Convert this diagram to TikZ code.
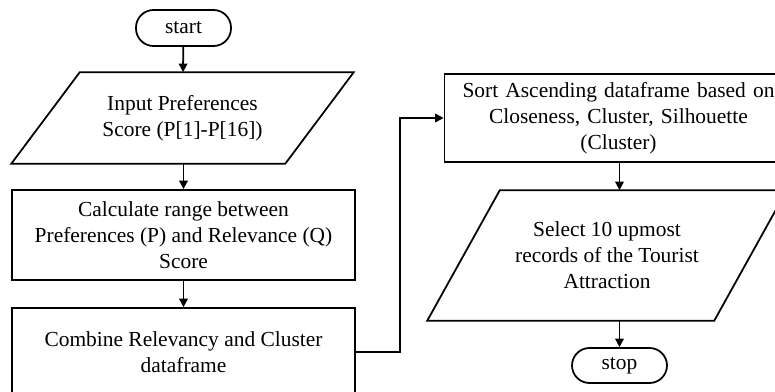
\documentclass[tikz,border=0pt]{standalone}
\usepackage{fontspec}
\setmainfont{Liberation Serif}
\usetikzlibrary{arrows.meta}
\tikzset{
    box/.style={draw, line width=1pt, align=center, font=\fontsize{12.2}{14.8}\selectfont},
    term/.style={box, rounded corners=0.35cm, minimum width=1.9cm, minimum height=0.72cm},
    io/.style={box, draw=none},
    edge/.style={line width=1pt},
    flow/.style={line width=1pt, -{Triangle[length=0.17cm, width=0.17cm]}}
}
\begin{document}
\begin{tikzpicture}[x=0.02cm, y=-0.02cm]
    \useasboundingbox (0,0) rectangle (775,392);

    \node[term] (start) at (183.5,28) {start};
    \node[io, minimum width=6.82cm, minimum height=1.8cm] (input) at (182.5,118) {Input Preferences\\Score (P[1]-P[16])};
    \draw[edge] (input.south west) -- ++(274,0) -- (input.north east) -- ++(-274,0) -- cycle;
    \node[box, minimum width=6.86cm, minimum height=1.8cm] (range) at (183.5,235) {Calculate range between\\Preferences (P) and Relevance (Q)\\Score};
    \node[box, minimum width=6.86cm, minimum height=1.76cm] (combine) at (183.5,352) {Combine Relevancy and Cluster\\dataframe};

    \node[box, minimum width=6.96cm, minimum height=1.76cm, text width=6.6cm] (sort) at (618.5,118) {Sort Ascending dataframe based on\\Closeness, Cluster, Silhouette\\(Cluster)};
    \node[io, minimum width=7.16cm, minimum height=2.58cm] (select) at (607,255.5) {Select 10 upmost\\records of the Tourist\\Attraction};
    \draw[edge] (select.south west) -- ++(287,0) -- (select.north east) -- ++(-287,0) -- cycle;
    \node[term, minimum height=0.7cm] (stop) at (619.5,365.5) {stop};

    \draw[flow] (start) -- (input);
    \draw[flow] (input.south -| range.north) -- (range);
    \draw[flow] (range) -- (combine);
    \draw[flow] (combine.east) -- ++(44,0) |- (sort.west);
    \draw[flow] (stop.north |- sort.south) -- (stop.north |- select.north);
    \draw[flow] (stop.north |- select.south) -- (stop);
\end{tikzpicture}
\end{document}
